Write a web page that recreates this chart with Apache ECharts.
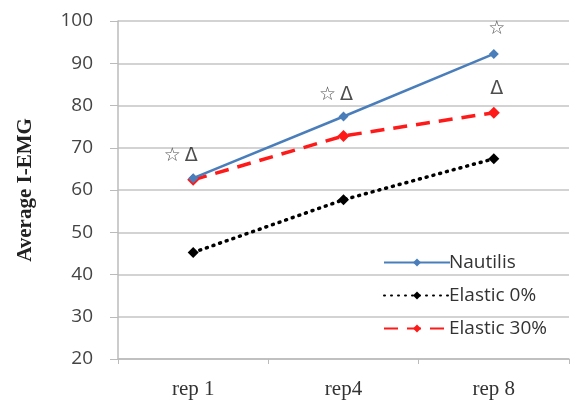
<!DOCTYPE html>
<html>
<head>
<meta charset="utf-8">
<script src="https://cdn.jsdelivr.net/npm/echarts@6/dist/echarts.min.js"></script>
<style>
  html, body { margin: 0; padding: 0; background: #fff; }
  #chart { width: 576px; height: 417px; }
</style>
</head>
<body>
<div id="chart"></div>
<script>
var categories = ['rep 1', 'rep4', 'rep 8'];
var nautilus = [62.8, 77.4, 92.2];
var elastic0 = [45.2, 57.7, 67.4];
var elastic30 = [62.4, 72.8, 78.3];
var yTicks = [20, 100, 10];

// significance marks: [category, value, symbol, x offset]
var marks = [
	['rep 1', 68, '☆', -21],
	['rep 1', 68, 'Δ', -2],
	['rep4', 82.5, '☆', -16],
	['rep4', 82.5, 'Δ', 3],
	['rep 8', 98, '☆', 3],
	['rep 8', 84, 'Δ', 3]
];

var dom = document.getElementById('chart');
var myChart = echarts.init(dom);

var option = {
	backgroundColor: '#fff',
	animation: false,
	grid: {
		left: 118,
		right: 7,
		top: 21,
		bottom: 58
	},
	legend: {
		orient: 'vertical',
		left: 378,
		top: 248,
		itemWidth: 66,
		itemHeight: 10,
		itemGap: 14,
		textStyle: {
			fontFamily: 'Open Sans',
			fontSize: 19,
			color: '#333',
			padding: [0, 0, 0, -6]
		},
		data: ['Nautilis', 'Elastic 0%', 'Elastic 30%']
	},
	xAxis: {
		type: 'category',
		data: categories,
		boundaryGap: true,
		axisLine: { lineStyle: { color: '#bbb', width: 1.5 } },
		axisTick: { show: true, length: 5, lineStyle: { color: '#bbb' } },
		axisLabel: {
			fontFamily: 'Liberation Serif',
			fontSize: 21,
			color: '#333',
			margin: 20
		}
	},
	yAxis: {
		type: 'value',
		min: yTicks[0],
		max: yTicks[1],
		interval: yTicks[2],
		name: 'Average I-EMG',
		nameLocation: 'middle',
		nameGap: 82,
		nameTextStyle: {
			fontFamily: 'Liberation Serif',
			fontWeight: 'bold',
			fontSize: 21,
			color: '#222'
		},
		axisLine: { show: true, lineStyle: { color: '#bbb', width: 1.5 } },
		axisTick: { show: true, length: 8, lineStyle: { color: '#bbb' } },
		splitLine: { lineStyle: { color: '#c4c4c4', width: 1.5 } },
		axisLabel: {
			fontFamily: 'Open Sans',
			fontSize: 19,
			color: '#444',
			margin: 25
		}
	},
	series: [
		{
			name: 'Nautilis',
			type: 'line',
			data: nautilus,
			symbol: 'diamond',
			symbolSize: 10,
			color: '#4a7ebb',
			lineStyle: { color: '#4a7ebb', width: 2.5 },
			itemStyle: { color: '#4a7ebb' },
			z: 4
		},
		{
			name: 'Elastic 0%',
			type: 'line',
			data: elastic0,
			symbol: 'diamond',
			symbolSize: 11,
			color: '#000',
			lineStyle: { color: '#000', width: 3.5, type: [1, 6], cap: 'round' },
			itemStyle: { color: '#000' },
			z: 3
		},
		{
			name: 'Elastic 30%',
			type: 'line',
			data: elastic30,
			symbol: 'diamond',
			symbolSize: 12,
			color: '#ff1a1a',
			lineStyle: { color: '#ff1a1a', width: 3.5, type: [14, 9] },
			itemStyle: { color: '#ff1a1a' },
			z: 3
		},
		{
			name: 'marks',
			type: 'scatter',
			symbolSize: 0,
			silent: true,
			data: marks.map(function(m) {
				return {
					value: [m[0], m[1]],
					label: {
						show: true,
						formatter: m[2],
						offset: [m[3], 0],
						position: 'inside',
						fontFamily: 'DejaVu Sans',
						fontSize: 19,
						color: '#222'
					}
				};
			}),
			z: 5
		}
	]
};

myChart.setOption(option, true);
</script>
</body>
</html>
